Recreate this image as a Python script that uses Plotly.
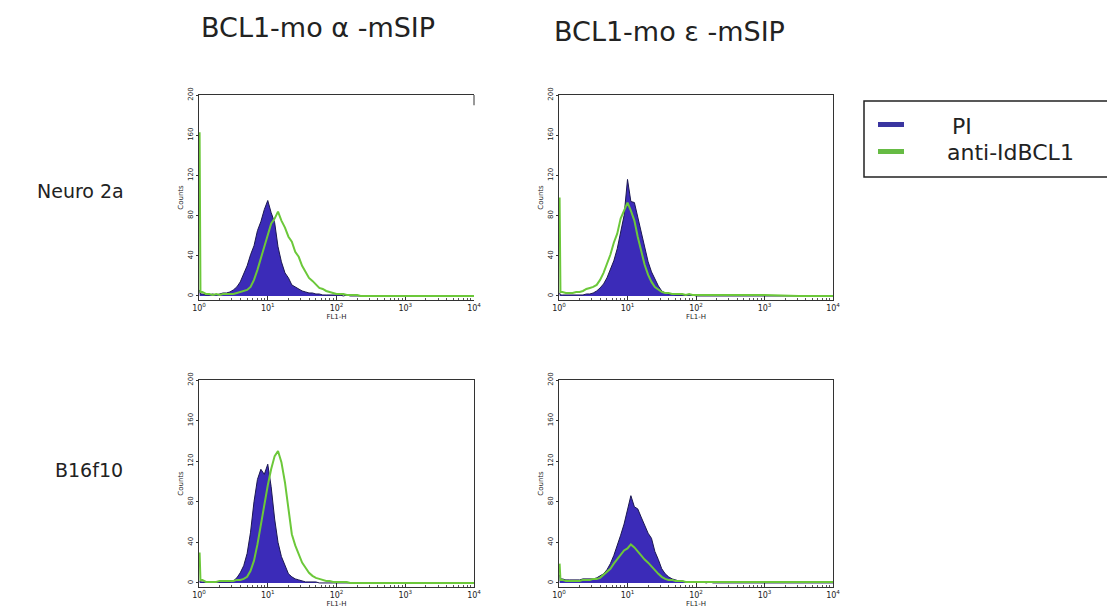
import plotly.graph_objects as go

# ---------------- data ----------------
# FL1-H channel values (log-spaced bins) shared by all histograms
fl1 = [1.02, 1.05, 1.12, 1.26, 1.41, 1.58, 1.78, 2.00, 2.24, 2.51, 2.82,
       3.16, 3.55, 3.98, 4.47, 5.01, 5.62, 6.31, 7.08, 7.94, 8.91,
       10.0, 11.2, 12.6, 14.1, 15.8, 17.8, 20.0, 22.4, 25.1, 28.2,
       31.6, 35.5, 39.8, 44.7, 50.1, 56.2, 63.1, 70.8, 79.4, 89.1,
       100, 112, 126, 141, 158, 178, 200, 224, 251, 282,
       316, 562, 1000, 3162, 10000]

# Neuro 2a, BCL1-mo alpha-mSIP
n2a_alpha_pi = [6, 2, 2, 1, 1, 2, 1, 2, 3, 3, 4,
                6, 9, 14, 22, 30, 41, 50, 65, 74, 86,
                95, 83, 73, 49, 34, 23, 18, 11, 9, 7,
                5, 4, 3, 3, 2, 2, 1, 1, 1, 1,
                1, 1, 0, 1, 0, 0, 0, 0, 0, 0,
                0, 0, 0, 0, 0]
n2a_alpha_id = [163, 4, 4, 2, 2, 1, 2, 1, 2, 2, 2,
                2, 3, 4, 5, 6, 9, 16, 26, 38, 50,
                62, 72, 77, 84, 75, 68, 59, 54, 44, 39,
                30, 24, 18, 15, 11, 8, 7, 5, 4, 3,
                2, 2, 2, 1, 1, 1, 1, 0, 0, 0,
                0, 0, 0, 0, 0]

# Neuro 2a, BCL1-mo epsilon-mSIP
n2a_eps_pi = [3, 1, 1, 1, 1, 1, 1, 1, 1, 2, 2,
              3, 5, 8, 12, 18, 26, 35, 47, 64, 80,
              116, 94, 93, 79, 64, 47, 34, 24, 17, 10,
              5, 3, 2, 2, 1, 1, 1, 1, 1, 1,
              0, 0, 0, 0, 0, 0, 0, 0, 0, 0,
              0, 0, 0, 0, 0]
n2a_eps_id = [98, 4, 4, 3, 3, 3, 4, 4, 5, 7, 8,
              9, 11, 16, 23, 32, 41, 53, 62, 77, 85,
              93, 85, 75, 59, 45, 31, 21, 14, 9, 6,
              4, 3, 3, 2, 2, 2, 2, 1, 2, 1,
              1, 1, 1, 1, 1, 1, 1, 1, 1, 1,
              1, 1, 1, 0, 0]

# B16f10, BCL1-mo alpha-mSIP
b16_alpha_pi = [2, 1, 1, 1, 1, 1, 1, 1, 1, 1, 1,
                2, 5, 10, 17, 29, 50, 80, 102, 112, 107,
                117, 95, 63, 40, 26, 18, 9, 6, 4, 3,
                2, 1, 1, 1, 1, 0, 0, 0, 0, 0,
                0, 0, 0, 0, 0, 0, 0, 0, 0, 0,
                0, 0, 0, 0, 0]
b16_alpha_id = [30, 3, 3, 1, 1, 1, 1, 2, 2, 2, 2,
                2, 3, 3, 4, 6, 12, 22, 38, 58, 78,
                96, 112, 125, 130, 119, 99, 72, 48, 37, 28,
                20, 15, 10, 7, 5, 4, 3, 2, 2, 1,
                1, 1, 1, 1, 0, 0, 0, 0, 0, 0,
                0, 0, 0, 0, 0]

# B16f10, BCL1-mo epsilon-mSIP
b16_eps_pi = [8, 4, 4, 3, 3, 3, 3, 3, 4, 4, 4,
              4, 5, 7, 9, 13, 19, 27, 36, 47, 58,
              73, 86, 75, 73, 65, 56, 49, 44, 31, 23,
              14, 9, 6, 4, 3, 2, 2, 1, 1, 1,
              1, 1, 1, 0, 1, 0, 0, 0, 0, 0,
              0, 0, 0, 0, 0]
b16_eps_id = [19, 3, 3, 2, 2, 2, 2, 2, 3, 3, 3,
              4, 4, 5, 8, 11, 14, 19, 23, 27, 32,
              34, 38, 35, 31, 28, 23, 20, 16, 13, 9,
              6, 4, 3, 3, 2, 2, 2, 1, 1, 1,
              1, 1, 1, 1, 1, 1, 1, 1, 1, 1,
              1, 1, 1, 1, 1]

col_titles = ["BCL1-mo \u03b1 -mSIP", "BCL1-mo \u03b5 -mSIP"]
row_titles = ["Neuro 2a", "B16f10"]
legend_names = ["PI", "anti-IdBCL1"]
x_tickvals = [1, 10, 100, 1000, 10000]
x_ticktext = ["10<sup>0</sup>", "10<sup>1</sup>", "10<sup>2</sup>", "10<sup>3</sup>", "10<sup>4</sup>"]
y_tickvals = [0, 40, 80, 120, 160, 200]
x_minor = [2, 3, 4, 5, 6, 7, 8, 9, 20, 30, 40, 50, 60, 70, 80, 90,
           200, 300, 400, 500, 600, 700, 800, 900,
           2000, 3000, 4000, 5000, 6000, 7000, 8000, 9000]

panels = [
    (n2a_alpha_pi, n2a_alpha_id),
    (n2a_eps_pi, n2a_eps_id),
    (b16_alpha_pi, b16_alpha_id),
    (b16_eps_pi, b16_eps_id),
]

# ---------------- style ----------------
OFF = 8                      # page body margin in the browser
W, H = 1115 - OFF, 609 - OFF
BLUE_FILL = "#3b2bb8"
BLUE_LINE = "#1b1850"
GREEN = "#6cc83a"
FONT = "DejaVu Sans"
TXT = "#222222"


def px(x):
    return (x - OFF) / W


def py(y):
    return 1 - (y - OFF) / H


# panel domains (reference pixels): left/right, top/bottom
xdoms = [(199, 474), (559, 833)]
ydoms = [(95, 300), (380, 587)]

fig = go.Figure()
shapes = []

for i, (pi_vals, id_vals) in enumerate(panels):
    r, c = divmod(i, 2)
    suffix = "" if i == 0 else str(i + 1)
    xa = "x" + suffix
    ya = "y" + suffix
    fig.add_trace(go.Scatter(
        x=fl1, y=pi_vals, xaxis=xa, yaxis=ya, mode="lines",
        line=dict(color=BLUE_LINE, width=1),
        fill="tozeroy", fillcolor=BLUE_FILL, showlegend=False,
        name=legend_names[0], hoverinfo="skip"))
    fig.add_trace(go.Scatter(
        x=fl1, y=id_vals, xaxis=xa, yaxis=ya, mode="lines",
        line=dict(color=GREEN, width=2),
        showlegend=False, name=legend_names[1], hoverinfo="skip"))

    x0, x1 = xdoms[c]
    y0, y1 = ydoms[r]
    fig.layout["xaxis" + suffix] = dict(
        domain=[px(x0), px(x1)], anchor=ya, type="log", range=[0, 4],
        automargin=False, layer="below traces",
        showline=True, linecolor="#333333", linewidth=1, mirror=True,
        showgrid=False, zeroline=False,
        tickmode="array", tickvals=x_tickvals, ticktext=x_ticktext,
        ticks="inside", ticklen=4, tickcolor="#333333",
        minor=dict(tickmode="array", tickvals=x_minor, ticks="inside",
                   ticklen=2, tickcolor="#555555"),
        tickfont=dict(family=FONT, size=8, color=TXT),
        title=dict(text="FL1-H", font=dict(family=FONT, size=7, color=TXT), standoff=0),
    )
    fig.layout["yaxis" + suffix] = dict(
        domain=[py(y1), py(y0)], anchor=xa, range=[-4, 200],
        automargin=False, layer="below traces",
        showline=True, linecolor="#333333", linewidth=1,
        mirror=(i != 0),
        showgrid=False, zeroline=False,
        tickmode="array", tickvals=y_tickvals, tickangle=-90,
        ticks="outside", ticklen=2, tickcolor="#333333",
        tickfont=dict(family=FONT, size=7, color=TXT),
        title=dict(text="Counts", font=dict(family=FONT, size=7, color=TXT), standoff=2),
    )

# first panel only shows a short stub of its right frame
shapes.append(dict(type="line", xref="x domain", yref="y domain", x0=1, x1=1,
                   y0=1, y1=0.95, line=dict(color="#333333", width=1)))

annotations = []
# column titles
for txt, cx, cy in zip(col_titles, [318, 669], [28, 32]):
    annotations.append(dict(text=txt, x=px(cx), y=py(cy), xref="paper", yref="paper",
                            showarrow=False, xanchor="center", yanchor="middle",
                            font=dict(family=FONT, size=27, color=TXT)))
# row titles
for txt, cx, cy in zip(row_titles, [81, 89], [191, 470]):
    annotations.append(dict(text=txt, x=px(cx), y=py(cy), xref="paper", yref="paper",
                            showarrow=False, xanchor="center", yanchor="middle",
                            font=dict(family=FONT, size=19, color=TXT)))
# legend labels
annotations.append(dict(text=legend_names[0], x=px(962), y=py(126), xref="paper", yref="paper",
                        showarrow=False, xanchor="center", yanchor="middle",
                        font=dict(family=FONT, size=22, color=TXT)))
annotations.append(dict(text=legend_names[1], x=px(1010), y=py(152), xref="paper", yref="paper",
                        showarrow=False, xanchor="center", yanchor="middle",
                        font=dict(family=FONT, size=22, color=TXT)))

shapes += [
    dict(type="rect", xref="paper", yref="paper", x0=px(864), x1=px(1120),
         y0=py(177), y1=py(101), line=dict(color="#222222", width=1.5)),
    dict(type="rect", xref="paper", yref="paper", x0=px(878), x1=px(904),
         y0=py(127), y1=py(122), line=dict(width=0), fillcolor="#3a35a0"),
    dict(type="rect", xref="paper", yref="paper", x0=px(878), x1=px(904),
         y0=py(154), y1=py(149), line=dict(width=0), fillcolor="#66bb44"),
]

fig.update_layout(
    width=W, height=H, margin=dict(l=0, r=0, t=0, b=0),
    paper_bgcolor="white", plot_bgcolor="white",
    annotations=annotations, shapes=shapes, showlegend=False,
)

fig.write_html("out.html")
